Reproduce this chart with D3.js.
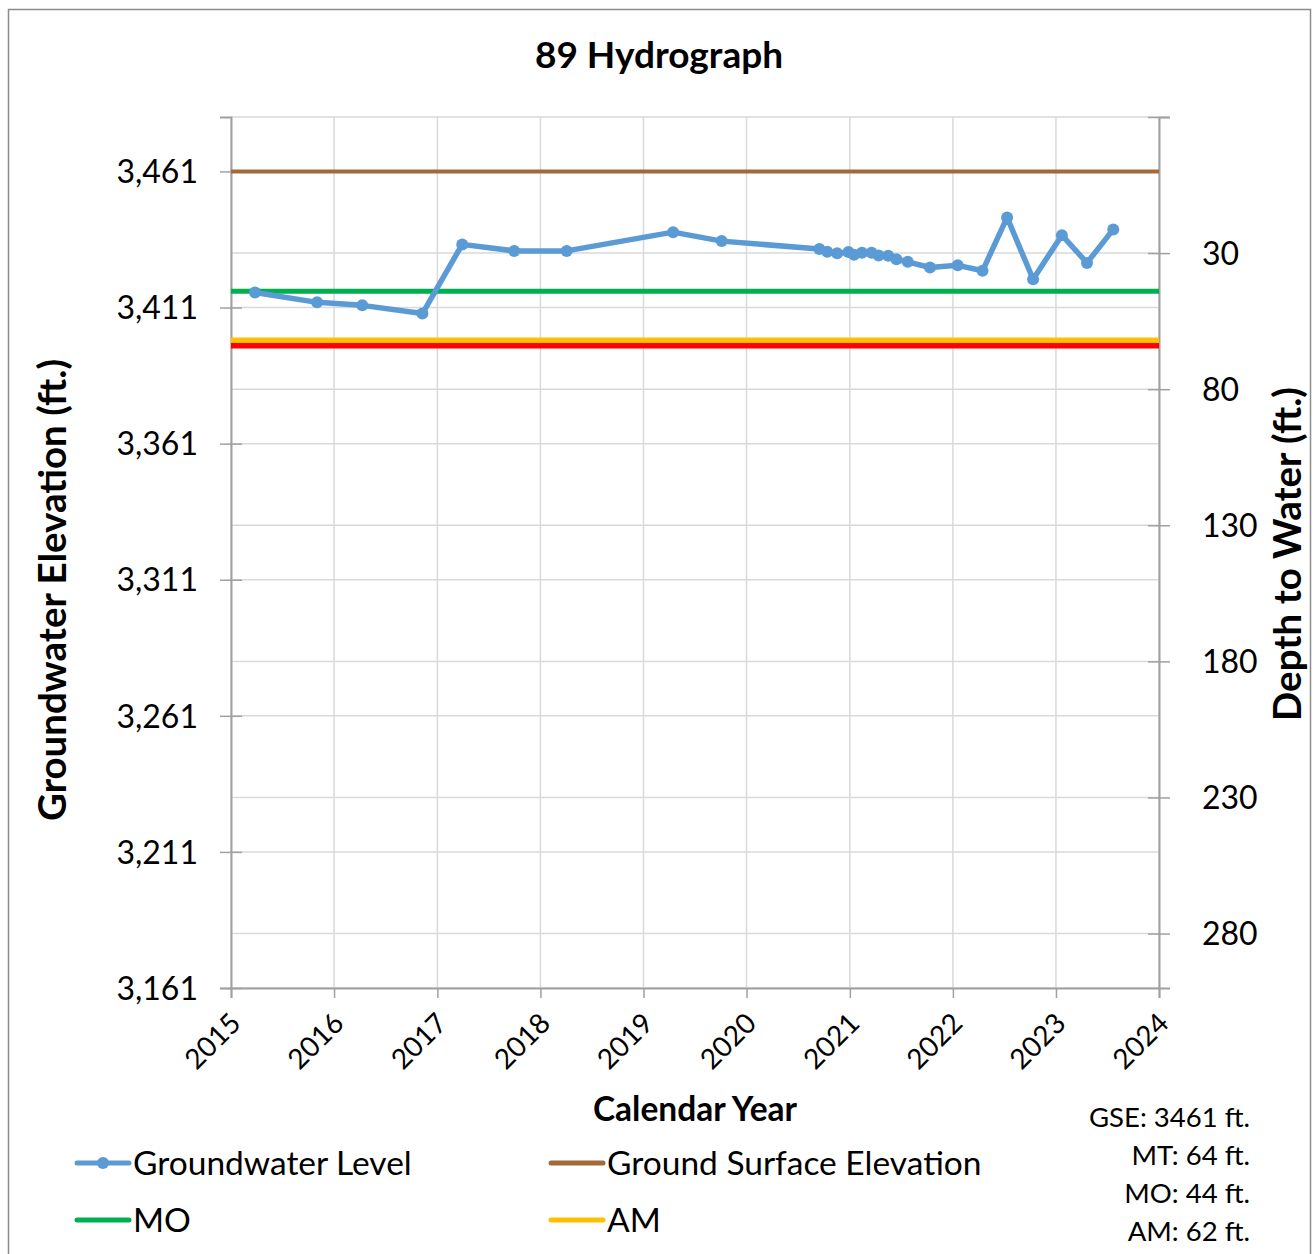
<!DOCTYPE html>
<html>
<head>
<meta charset="utf-8">
<script src="https://cdn.jsdelivr.net/npm/d3@7/dist/d3.min.js"></script>
<style>
  html, body { margin: 0; padding: 0; background: #fff; }
  svg { display: block; font-family: Lato, "Open Sans", sans-serif; }
</style>
</head>
<body>
<svg id="chart" width="1313" height="1254"></svg>
<script>
// ---- Data ----
const chartTitle = "89 Hydrograph";
const gse = 3461;          // ground surface elevation (ft)
const mtDepth = 64;        // minimum threshold depth (ft)
const moDepth = 44;        // measurable objective depth (ft)
const amDepth = 62;        // alert / action depth (ft)

const measureDates = [
  "2015-03-27", "2015-11-02", "2016-04-10", "2016-11-09", "2017-03-30",
  "2017-09-30", "2018-04-04", "2019-04-16", "2019-10-05", "2020-09-15",
  "2020-10-13", "2020-11-17", "2020-12-27", "2021-01-16", "2021-02-13",
  "2021-03-19", "2021-04-13", "2021-05-17", "2021-06-15", "2021-07-25",
  "2021-10-12", "2022-01-18", "2022-04-16", "2022-07-12", "2022-10-12",
  "2023-01-22", "2023-04-21", "2023-07-23"
];
const groundwaterElev = [
  3416.5, 3412.9, 3411.8, 3408.8, 3434.2,
  3431.8, 3431.8, 3438.7, 3435.4, 3432.5,
  3431.5, 3430.9, 3431.4, 3430.4, 3431.1,
  3431.1, 3430.1, 3430.0, 3428.7, 3427.8,
  3425.7, 3426.5, 3424.5, 3444.1, 3421.4,
  3437.6, 3427.4, 3439.7
];

const yearTicks = [2015, 2016, 2017, 2018, 2019, 2020, 2021, 2022, 2023, 2024];
const elevTicks = [3161, 3211, 3261, 3311, 3361, 3411, 3461];
const depthTicks = [-20, 30, 80, 130, 180, 230, 280];
const elevDomain = [3161, 3481];

const legendItems = [
  { label: "Groundwater Level", color: "#5b9bd5", marker: true },
  { label: "Ground Surface Elevation", color: "#a2693a", marker: false },
  { label: "MO", color: "#00b050", marker: false },
  { label: "AM", color: "#ffc000", marker: false }
];
const infoLines = ["GSE: 3461 ft.", "MT: 64 ft.", "MO: 44 ft.", "AM: 62 ft."];

// ---- Layout ----
const svg = d3.select("#chart");
const plot = { left: 231, right: 1159, top: 117, bottom: 988 };

svg.append("rect").attr("x", 0).attr("y", 0).attr("width", 1313).attr("height", 1254).attr("fill", "#fff");
svg.append("rect").attr("x", 8.5).attr("y", 9.5).attr("width", 1302).attr("height", 1270)
  .attr("fill", "none").attr("stroke", "#8c8c8c").attr("stroke-width", 1.5);

const x = d3.scaleTime()
  .domain([new Date(2015, 0, 1), new Date(2024, 0, 1)])
  .range([plot.left, plot.right]);
const y = d3.scaleLinear().domain(elevDomain).range([plot.bottom, plot.top]);
const yDepth = d3.scaleLinear().domain([gse - elevDomain[0], gse - elevDomain[1]]).range([plot.bottom, plot.top]);

const grid = svg.append("g");
grid.selectAll("line.v").data(yearTicks).join("line")
  .attr("x1", d => x(new Date(d, 0, 1))).attr("x2", d => x(new Date(d, 0, 1)))
  .attr("y1", plot.top).attr("y2", plot.bottom)
  .attr("stroke", "#d9d9d9").attr("stroke-width", 1.5);
grid.selectAll("line.h").data(elevTicks.map(y).concat(depthTicks.map(yDepth))).join("line")
  .attr("x1", plot.left).attr("x2", plot.right)
  .attr("y1", d => d).attr("y2", d => d)
  .attr("stroke", "#d9d9d9").attr("stroke-width", 1.5);

// axes
const axisColor = "#a0a0a0";
const leftAxis = svg.append("g").attr("transform", `translate(${plot.left},0)`)
  .call(d3.axisLeft(y).tickValues(elevTicks).tickFormat(d3.format(",")).tickSize(11).tickPadding(22));
leftAxis.selectAll(".tick line").clone().attr("x2", 11);
const rightAxis = svg.append("g").attr("transform", `translate(${plot.right},0)`)
  .call(d3.axisRight(yDepth).tickValues(depthTicks).tickFormat(d => d < 0 ? "" : d).tickSize(11).tickPadding(32));
rightAxis.selectAll(".tick line").clone().attr("x2", -11);
const bottomAxis = svg.append("g").attr("transform", `translate(0,${plot.bottom})`)
  .call(d3.axisBottom(x).tickValues(yearTicks.map(d => new Date(d, 0, 1))).tickFormat(d3.timeFormat("%Y")).tickSize(10).tickPadding(6));

[leftAxis, rightAxis, bottomAxis].forEach(a => {
  a.selectAll(".domain").attr("stroke", axisColor).attr("stroke-width", 2);
  a.selectAll(".tick line").attr("stroke", axisColor).attr("stroke-width", 1.5);
  a.selectAll("text").attr("fill", "#000").attr("font-family", "Lato, sans-serif");
});
leftAxis.selectAll("text").attr("font-size", 32).attr("dy", "0.35em");
rightAxis.selectAll("text").attr("font-size", 32).attr("dy", "0.35em");
bottomAxis.selectAll("text").attr("font-size", 28)
  .attr("text-anchor", "end").attr("x", 0).attr("y", 0).attr("dy", "0.35em").attr("dx", 0)
  .attr("transform", "translate(4,30) rotate(-45)");

// threshold lines
const hline = (elev, color, w) => svg.append("line")
  .attr("x1", plot.left).attr("x2", plot.right)
  .attr("y1", y(elev)).attr("y2", y(elev))
  .attr("stroke", color).attr("stroke-width", w);
hline(gse, "#a2693a", 4);
hline(gse - moDepth, "#00b050", 5);
hline(gse - amDepth, "#ffc000", 5.5);
hline(gse - mtDepth, "#ff0000", 5.5);

// groundwater series
const pts = measureDates.map((d, i) => ({ date: d3.timeParse("%Y-%m-%d")(d), v: groundwaterElev[i] }));
svg.append("path").datum(pts)
  .attr("fill", "none").attr("stroke", "#5b9bd5").attr("stroke-width", 5.5).attr("stroke-linejoin", "round")
  .attr("d", d3.line().x(d => x(d.date)).y(d => y(d.v)));
svg.append("g").selectAll("circle").data(pts).join("circle")
  .attr("cx", d => x(d.date)).attr("cy", d => y(d.v)).attr("r", 6).attr("fill", "#5b9bd5");

// titles
svg.append("text").attr("x", 659).attr("y", 68).attr("text-anchor", "middle")
  .attr("font-size", 37).attr("font-weight", "bold").text(chartTitle);
svg.append("text").attr("transform", "translate(66,590) rotate(-90)").attr("text-anchor", "middle")
  .attr("font-size", 38.5).attr("font-weight", "bold").text("Groundwater Elevation (ft.)");
svg.append("text").attr("transform", "translate(1301,554) rotate(-90)").attr("text-anchor", "middle")
  .attr("font-size", 38.5).attr("font-weight", "bold").text("Depth to Water (ft.)");
svg.append("text").attr("x", 695).attr("y", 1121).attr("text-anchor", "middle")
  .attr("font-size", 33.5).attr("font-weight", "bold").text("Calendar Year");

// legend
const legPos = [[77, 1163], [551, 1163], [77, 1220], [551, 1220]];
legendItems.forEach((it, i) => {
  const [lx, ly] = legPos[i];
  const g = svg.append("g");
  g.append("line").attr("x1", lx).attr("x2", lx + 52).attr("y1", ly).attr("y2", ly)
    .attr("stroke", it.color).attr("stroke-width", 5).attr("stroke-linecap", "round");
  if (it.marker) g.append("circle").attr("cx", lx + 26).attr("cy", ly).attr("r", 6).attr("fill", it.color);
  g.append("text").attr("x", lx + 56).attr("y", ly).attr("dy", "0.35em").attr("font-size", 33.5).text(it.label);
});

// info text
infoLines.forEach((t, i) => {
  svg.append("text").attr("x", 1250).attr("y", 1117 + i * 38).attr("dy", "0.35em")
    .attr("text-anchor", "end").attr("font-size", 27.5).text(t);
});
</script>
</body>
</html>
